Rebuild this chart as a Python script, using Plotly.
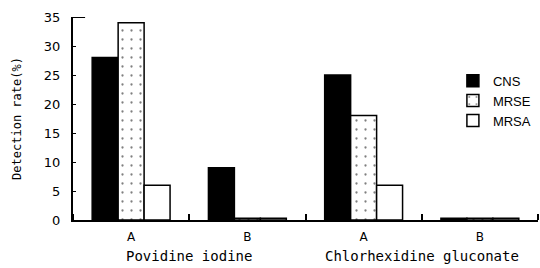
import plotly.graph_objects as go

categories = ["A", "B", "A", "B"]
groups = ["Povidine iodine", "Chlorhexidine gluconate"]
series = ["CNS", "MRSE", "MRSA"]
cns = [28, 9, 25, 0.3]
mrse = [34, 0.3, 18, 0.3]
mrsa = [6, 0.3, 6, 0.3]
y_ticks = [0, 5, 10, 15, 20, 25, 30, 35]

xpos = list(range(len(categories)))

fig = go.Figure()
fig.add_bar(name=series[0], x=xpos, y=cns,
            marker=dict(color="black", line=dict(color="black", width=1.5)))
fig.add_bar(name=series[1], x=xpos, y=mrse,
            marker=dict(color="white", line=dict(color="black", width=1.5),
                        pattern=dict(shape=".", fgcolor="black", bgcolor="white",
                                     size=9, solidity=0.05)))
fig.add_bar(name=series[2], x=xpos, y=mrsa,
            marker=dict(color="white", line=dict(color="black", width=1.5)))

for i, g in enumerate(groups):
    fig.add_annotation(x=2 * i + 0.5, y=0, xref="x", yref="paper", yshift=-36,
                       yanchor="middle", text=g, showarrow=False,
                       font=dict(family="DejaVu Sans Mono", size=14, color="black"))

fig.add_shape(type="line", xref="paper", yref="y", x0=0, x1=0.026, y0=35, y1=35,
              line=dict(color="black", width=2))

fig.update_layout(
    width=540, height=268,
    margin=dict(l=73, r=2, t=17, b=48, autoexpand=False),
    paper_bgcolor="white", plot_bgcolor="white",
    barmode="group", bargap=0.33, bargroupgap=0,
    showlegend=True,
    legend=dict(x=0.817, y=0.76, xanchor="left", yanchor="top", itemwidth=30,
                font=dict(family="Liberation Sans", size=13, color="black"),
                bgcolor="rgba(0,0,0,0)", tracegroupgap=0),
    xaxis=dict(range=[-0.5, 3.5], tickmode="array", tickvals=xpos, ticktext=categories,
               ticks="", showline=True, linecolor="black", linewidth=2,
               showgrid=False, zeroline=False, automargin=False,
               ticklabelstandoff=5,
               tickfont=dict(family="DejaVu Sans", size=12, color="black"),
               minor=dict(ticks="inside", tick0=0.5, dtick=1, ticklen=6,
                          tickwidth=1.5, tickcolor="black", showgrid=False)),
    yaxis=dict(range=[0, 35], tickmode="array", tickvals=y_ticks, ticks="inside",
               ticklen=3, tickwidth=1, tickcolor="black",
               showline=True, linecolor="black", linewidth=2, showgrid=False,
               zeroline=False, automargin=False, ticklabelstandoff=8,
               tickfont=dict(family="DejaVu Sans", size=13, color="black"),
               title=dict(text="Detection rate(%)", standoff=20,
                          font=dict(family="DejaVu Sans Mono", size=12, color="black"))),
)

fig.write_html("out.html", config={"displayModeBar": False},
               post_script="document.body.style.margin='0';document.body.style.padding='0';")
